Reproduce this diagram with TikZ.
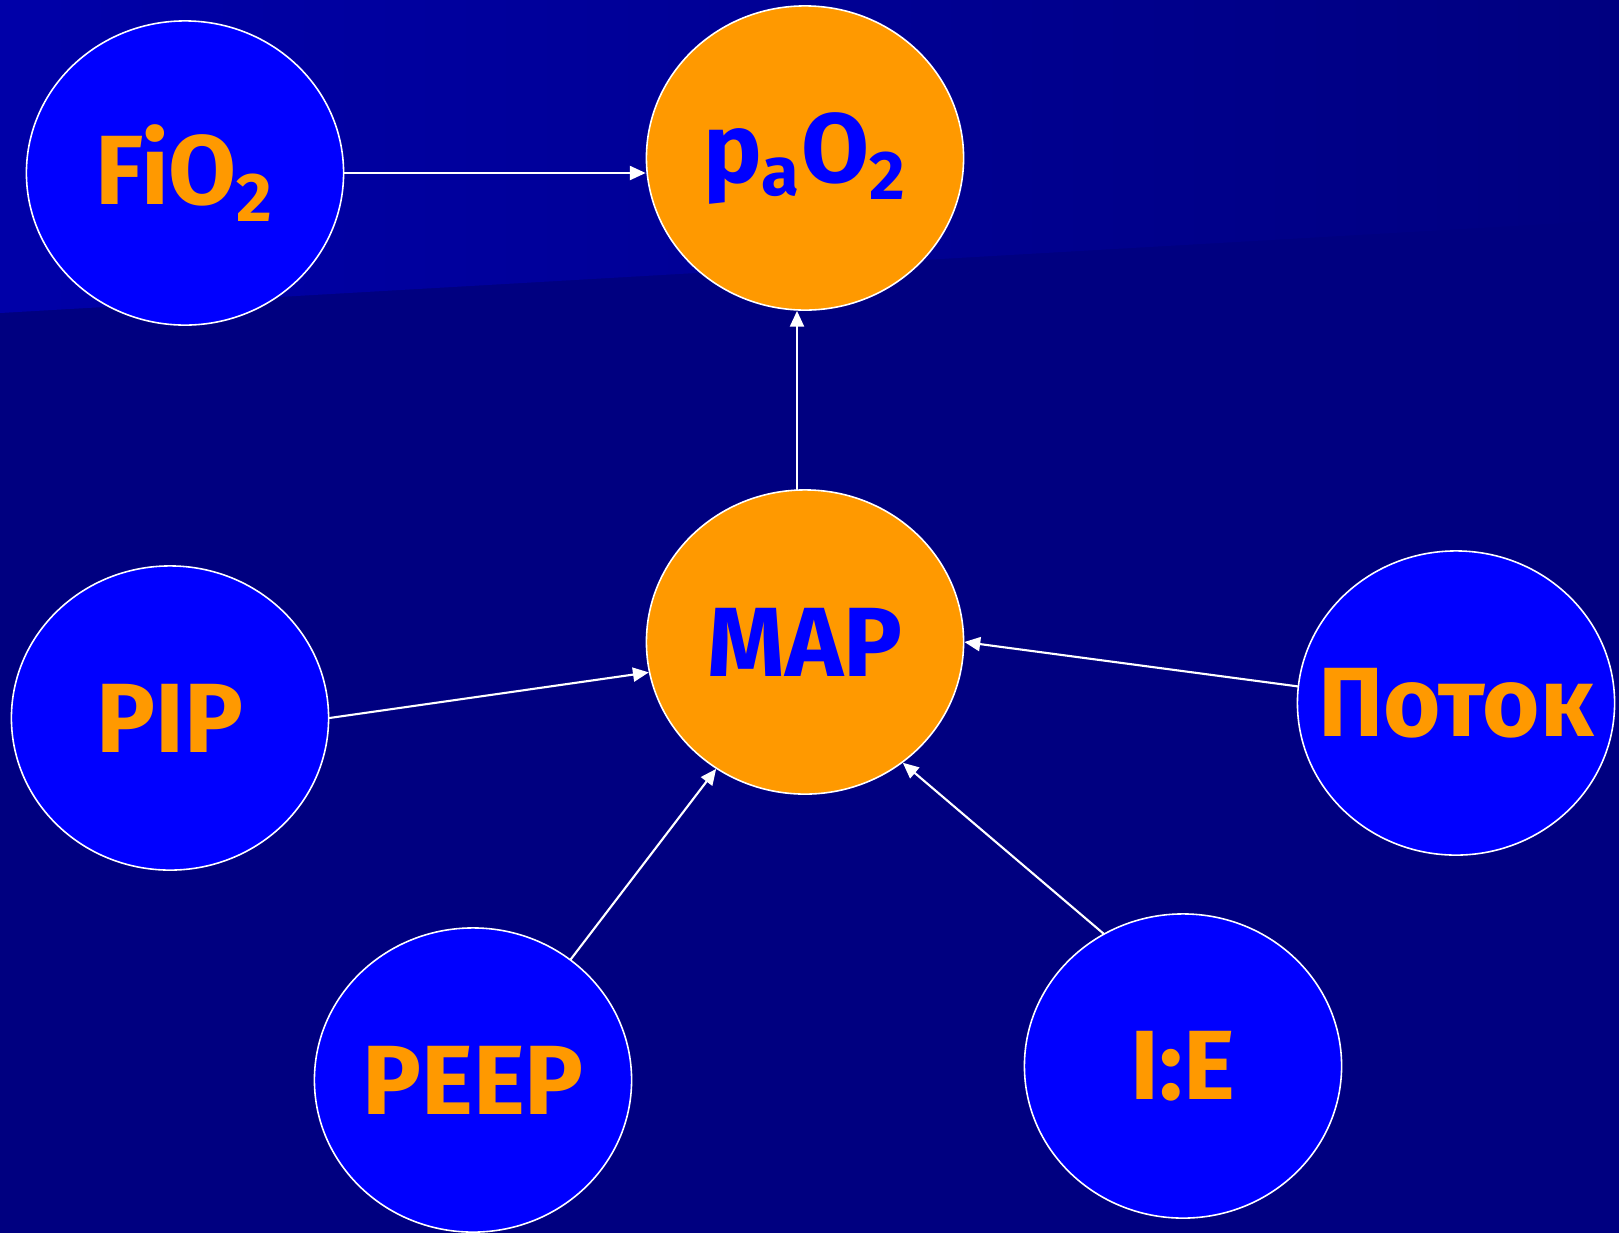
\documentclass[tikz,border=0pt]{standalone}
\usepackage{fontspec}
\setmainfont{Fira Sans}
\usetikzlibrary{shapes.geometric,arrows.meta}
\definecolor{navybg}{HTML}{000080}
\definecolor{bandtop}{HTML}{0000A8}
\definecolor{nodeblue}{HTML}{0000FF}
\definecolor{nodeorange}{HTML}{FF9900}
\begin{document}
\begin{tikzpicture}[x=0.01cm, y=-0.01cm, line join=round, line cap=round,
		font=\fontsize{28}{30}\selectfont\bfseries,
		bubble/.style={ellipse, draw=white, line width=1.5pt*0.3, minimum width=3.17cm, minimum height=3.04cm, inner sep=0pt},
		bluebubble/.style={bubble, fill=nodeblue, text=nodeorange},
		orangebubble/.style={bubble, fill=nodeorange, text=nodeblue},
		arr/.style={draw=white, line width=0.6pt, -{Triangle[length=4.5pt, width=4pt]}}]
	\def\W{1619} \def\H{1233}
	\useasboundingbox (0,0) rectangle (\W,\H);
	\fill[navybg] (0,0) rectangle (\W,\H);
	\shade[left color=bandtop, right color=navybg] (0,0)--(\W,0)--(\W,220)--(0,313)--cycle;
	%\draw[color=gray!50,dashed] (0,0) grid[step=100] (\W,\H);
	\node[bluebubble] (fio) at (185,173) {FiO\textsubscript{2}};
	\node[orangebubble] (pao) at (805,158) {p\textsubscript{a}O\textsubscript{2}};
	\node[orangebubble] (map) at (805,642) {MAP};
	\node[bluebubble] (pip) at (170,718) {PIP};
	\node[bluebubble] (flow) at (1456,703) {\makebox[0pt]{Поток}};
	\node[bluebubble] (peep) at (473,1080) {PEEP};
	\node[bluebubble] (ie) at (1183,1066) {I:E};
	\draw[arr] (fio.east) -- (fio.east -| pao.west);
	\draw[arr] (map.93) -- (map.93 |- pao.south);
	\draw[arr] (pip.east) -- (map.191);
	\draw[arr] (flow.174) -- (map.east);
	\draw[arr] (peep.51) -- (map.235);
	\draw[arr] (ie.121) -- (map.309);
\end{tikzpicture}
\end{document}
